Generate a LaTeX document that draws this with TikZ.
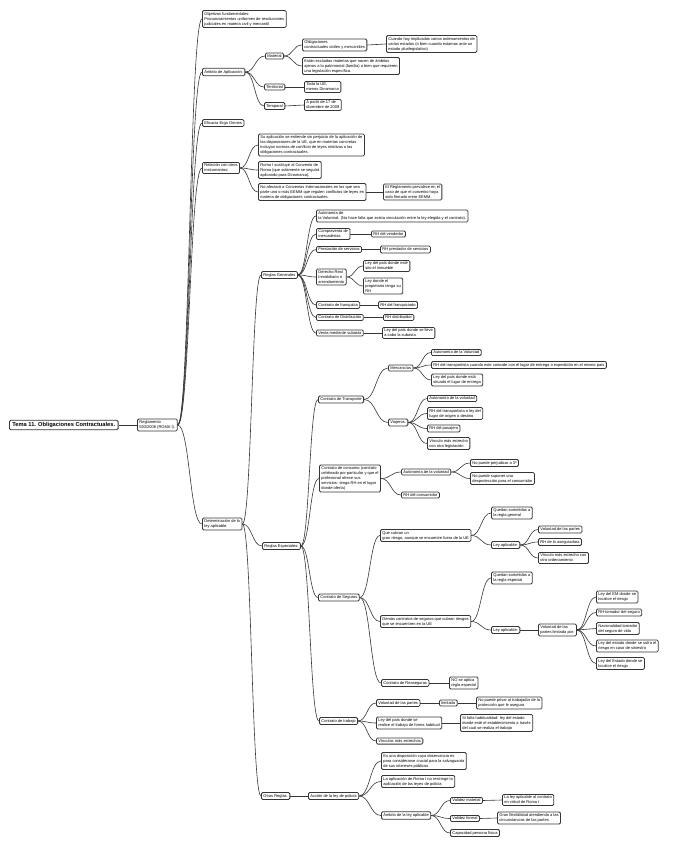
\documentclass[tikz,border=0pt]{standalone}
\usepackage{fontspec}
\setmainfont{Liberation Sans}
\usepackage{tikz}
\usetikzlibrary{calc}
\definecolor{edgegray}{HTML}{363636}

\begin{document}
\begin{tikzpicture}[x=1pt, y=-1pt,
    box/.style={draw=edgegray, line width=0.8pt, rounded corners=1.3pt, fill=white,
        anchor=west, align=left, inner xsep=2pt, inner ysep=1.6pt,
        font=\fontsize{4}{5}\selectfont},
    title/.style={box, font=\fontsize{5.7}{6.5}\bfseries\selectfont, inner xsep=3pt, inner ysep=2pt},
    link/.style={draw=edgegray, line width=0.6pt,
        to path={let \p1=(\tikztostart), \p2=(\tikztotarget),
            \p3=($(\tikztostart)!.5!(\tikztotarget)$) in
            .. controls (\x3,\y1) and (\x3,\y2) .. (\tikztotarget)}}]

    \path[use as bounding box, fill=white] (0,0) rectangle (677,848);

    \node[title] (root) at (9,425) {Tema 11. Obligaciones Contractuales.};
    \node[box] (reg) at (137,425) {Reglamento\\593/2008 (ROMA I).};

    \node[box] (obj) at (202,19) {Objetivos fundamentales:\\Pronunciamientos uniformes de resoluciones\\judiciales en materia civil y mercantil};
    \node[box] (amb) at (202,72) {Ámbito de Aplicación:};
    \node[box] (mat) at (265,56) {Material};
    \node[box] (oblig) at (302,45) {Obligaciones\\contractuales civiles y mercantiles};
    \node[box] (varios) at (386,44) {Cuando hay implicados varios ordenamientos de\\varios estados (o bien cuando estamos ante un\\estado plurilegislativo)};
    \node[box] (excl) at (302,66) {Están excluidas materias que nacen de ámbitos\\ajenos a lo patrimonial (familia) o bien que requieren\\una legislación específica.};
    \node[box] (terr) at (264,87) {Territorial};
    \node[box] (ue) at (304,87) {Toda la UE,\\menos Dinamarca};
    \node[box] (temp) at (264,106) {Temporal};
    \node[box] (dic) at (304,105) {A partir de 17 de\\diciembre de 2009};
    \node[box] (efi) at (202,123) {Eficacia Erga Omnes};
    \node[box] (rel) at (202,168) {Relación con otros\\instrumentos:};
    \node[box] (rel1) at (258,145) {Su aplicación se entiende sin perjuicio de la aplicación de\\las disposiciones de la UE, que en materias concretas\\incluyan normas de conflicto de leyes relativas a las\\obligaciones contractuales.};
    \node[box] (rel2) at (258,170) {Roma I sustituye al Convenio de\\Roma (que solamente se seguirá\\aplicando para Dinamarca).};
    \node[box] (rel3) at (258,192) {No afectará a Convenios Internacionales en los que sea\\parte uno o más EEMM que regulen conflictos de leyes en\\materia de obligaciones contractuales.};
    \node[box] (rel4) at (383,192) {El Reglamento prevalece en el\\caso de que el convenio haya\\sido firmado entre EEMM.};

    \node[box] (det) at (202,524) {Determinación de la\\ley aplicable.};
    \node[box] (gen) at (261,275) {Reglas Generales};
    \node[box] (g1) at (316,216) {Autonomía de\\la Voluntad. (No hace falta que exista vinculación entre la ley elegida y el contrato).};
    \node[box] (g2) at (316,234) {Compraventa de\\mercaderías};
    \node[box] (g2a) at (371,234) {RH del vendedor};
    \node[box] (g3) at (316,249.5) {Prestación de servicios};
    \node[box] (g3a) at (380,249.5) {RH prestador de servicios};
    \node[box] (g4) at (316,277) {Derecho Real\\Inmobiliario o\\arrendamiento};
    \node[box] (g4a) at (363,266) {Ley del país donde esté\\sito el inmueble};
    \node[box] (g4b) at (363,286) {Ley donde el\\propietario tenga su\\RH};
    \node[box] (g5) at (316,305) {Contrato de franquicia};
    \node[box] (g5a) at (378,305) {RH del franquiciado};
    \node[box] (g6) at (316,317.5) {Contrato de Distribución};
    \node[box] (g6a) at (383,317.5) {RH distribuidor};
    \node[box] (g7) at (316,333) {Venta mediante subasta};
    \node[box] (g7a) at (382,333) {Ley del país donde se lleve\\a cabo la subasta};

    \node[box] (esp) at (262,546) {Reglas Especiales:};
    \node[box] (tra) at (318,399.5) {Contrato de Transporte};
    \node[box] (mer) at (388,368) {Mercancías};
    \node[box] (m1) at (431,352.5) {Autonomía de la Voluntad};
    \node[box] (m2) at (431,365) {RH del transportista cuando este coincide con el lugar de entrega o expedición en el mismo país};
    \node[box] (m3) at (431,380) {Ley del país donde está\\situado el lugar de entrega};
    \node[box] (via) at (388,422.5) {Viajeros.};
    \node[box] (v1) at (427,398.5) {Autonomía de la voluntad};
    \node[box] (v2) at (427,413.5) {RH del transportista o ley del\\lugar de origen o destino};
    \node[box] (v3) at (427,428.5) {RH del pasajero};
    \node[box] (v4) at (427,443.5) {Vínculo más estrecho\\con otra legislación};
    \node[box] (con) at (319,478.5) {Contrato de consumo (contrato\\celebrado por particular y que el\\profesional ofrece sus\\servicios: tenga RH en el lugar\\donde oferta)};
    \node[box] (c1) at (401,472) {Autonomía de la voluntad};
    \node[box] (c1a) at (470,463) {No puede perjudicar a 3º};
    \node[box] (c1b) at (470,478.5) {No puede suponer una\\desprotección para el consumidor};
    \node[box] (c2) at (401,495) {RH del consumidor};
    \node[box] (seg) at (318,597.5) {Contrato de Seguros};
    \node[box] (s1) at (380,535.5) {Que cubran un\\gran riesgo, aunque se encuentre fuera de la UE};
    \node[box] (s1a) at (491,513) {Quedan sometidos a\\la regla general};
    \node[box] (s1b) at (491,545) {Ley aplicable:};
    \node[box] (s1b1) at (538,529.5) {Voluntad de las partes};
    \node[box] (s1b2) at (538,542) {RH de la aseguradora};
    \node[box] (s1b3) at (538,558) {Vínculo más estrecho con\\otro ordenamiento};
    \node[box] (s2) at (380,621.5) {Demás contratos de seguros que cubran riesgos\\que se encuentren en la UE};
    \node[box] (s2a) at (491,578) {Quedan sometidos a\\la regla especial};
    \node[box] (s2b) at (491,630) {Ley aplicable:};
    \node[box] (s2c) at (538,630) {Voluntad de las\\partes limitada por:};
    \node[box] (s2c1) at (596,597) {Ley del EM donde se\\localice el riesgo};
    \node[box] (s2c2) at (596,612.5) {RH tomador del seguro};
    \node[box] (s2c3) at (596,628.5) {Nacionalidad tomador\\del seguro de vida};
    \node[box] (s2c4) at (596,646) {Ley del estado donde se sufra el\\riesgo en caso de siniestro};
    \node[box] (s2c5) at (596,663.5) {Ley del Estado donde se\\localice el riesgo};
    \node[box] (rea) at (381,683) {Contrato de Reaseguros};
    \node[box] (rea1) at (449,683) {NO se aplica\\regla especial};
    \node[box] (trab) at (319,721) {Contrato de trabajo};
    \node[box] (t1) at (376,703) {Voluntad de las partes};
    \node[box] (t1a) at (439,703) {limitada};
    \node[box] (t1b) at (476,703) {No puede privar al trabajador de la\\protección que le asegura};
    \node[box] (t2) at (376,723) {Ley del país donde se\\realice el trabajo de forma habitual};
    \node[box] (t2a) at (460,723) {Si falta habitualidad: ley del estado\\donde esté el establecimiento a través\\del cual se realiza el trabajo};
    \node[box] (t3) at (376,741) {Vínculos más estrechos};

    \node[box] (otr) at (261,796) {Otras Reglas.};
    \node[box] (pol) at (308,796) {Acción de la ley de policía};
    \node[box] (p1) at (381,761) {Es una disposición cuya observancia es\\para considerarse crucial para la salvaguarda\\de sus intereses públicos};
    \node[box] (p2) at (381,781.5) {La aplicación de Roma I no restringe la\\aplicación de las leyes de policía};
    \node[box] (amb2) at (381,815.5) {Ámbito de la ley aplicable};
    \node[box] (a1) at (450,800.5) {Validez material};
    \node[box] (a1a) at (502,800) {La ley aplicable al contrato\\en virtud de Roma I};
    \node[box] (a2) at (450,818.5) {Validez formal};
    \node[box] (a2a) at (497,818) {Gran flexibilidad atendiendo a las\\circunstancias de las partes};
    \node[box] (a3) at (450,833) {Capacidad persona física};

    \foreach \a/\b in {root/reg, reg/obj, reg/amb, reg/efi, reg/rel, reg/det,
        amb/mat, amb/terr, amb/temp, mat/oblig, mat/excl, oblig/varios, terr/ue, temp/dic,
        rel/rel1, rel/rel2, rel/rel3, rel3/rel4,
        det/gen, det/esp, det/otr,
        gen/g1, gen/g2, gen/g3, gen/g4, gen/g5, gen/g6, gen/g7,
        g2/g2a, g3/g3a, g4/g4a, g4/g4b, g5/g5a, g6/g6a, g7/g7a,
        esp/tra, esp/con, esp/seg, esp/trab,
        tra/mer, tra/via, mer/m1, mer/m2, mer/m3, via/v1, via/v2, via/v3, via/v4,
        con/c1, con/c2, c1/c1a, c1/c1b,
        seg/s1, seg/s2, seg/rea, s1/s1a, s1/s1b, s1b/s1b1, s1b/s1b2, s1b/s1b3,
        s2/s2a, s2/s2b, s2b/s2c, s2c/s2c1, s2c/s2c2, s2c/s2c3, s2c/s2c4, s2c/s2c5, rea/rea1,
        trab/t1, trab/t2, trab/t3, t1/t1a, t1a/t1b, t2/t2a,
        otr/pol, pol/p1, pol/p2, pol/amb2, amb2/a1, amb2/a2, amb2/a3, a1/a1a, a2/a2a}
        \draw[link] (\a.east) to (\b.west);

\end{tikzpicture}
\end{document}
